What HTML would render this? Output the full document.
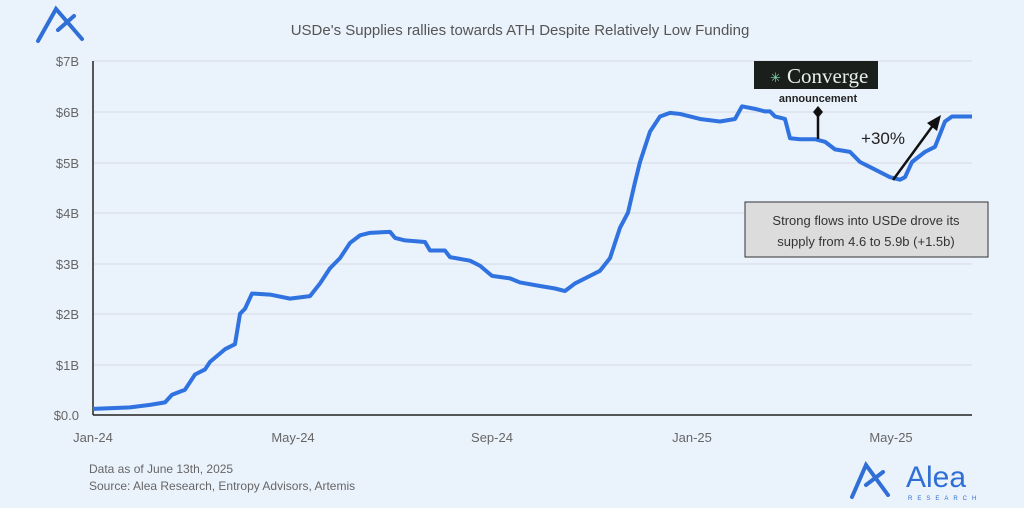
<!DOCTYPE html>
<html><head><meta charset="utf-8"><style>
html,body{margin:0;padding:0;background:#eaf2fc;}
svg{display:block;font-family:"Liberation Sans",sans-serif;}
</style></head><body>
<svg width="1024" height="508" viewBox="0 0 1024 508">
<rect width="1024" height="508" fill="#eaf2fc"/>
<path d="M38 41 L56 9 L82 39 M58 30 L74 16" stroke="#2f6fd6" stroke-width="4" fill="none" stroke-linecap="round"/>
<text x="520" y="35" font-size="15" fill="#555" text-anchor="middle">USDe's Supplies rallies towards ATH Despite Relatively Low Funding</text>
<g stroke="#d4dbe4" stroke-width="1">
<line x1="93" y1="61" x2="972" y2="61"/><line x1="93" y1="112" x2="972" y2="112"/>
<line x1="93" y1="163" x2="972" y2="163"/><line x1="93" y1="213" x2="972" y2="213"/>
<line x1="93" y1="264" x2="972" y2="264"/><line x1="93" y1="314" x2="972" y2="314"/>
<line x1="93" y1="365" x2="972" y2="365"/>
</g>
<line x1="93" y1="61" x2="93" y2="415" stroke="#222" stroke-width="1.5"/>
<line x1="93" y1="415" x2="972" y2="415" stroke="#222" stroke-width="1.5"/>
<g font-size="13" fill="#666" text-anchor="end">
<text x="79" y="66">$7B</text><text x="79" y="117">$6B</text><text x="79" y="168">$5B</text>
<text x="79" y="218">$4B</text><text x="79" y="269">$3B</text><text x="79" y="319">$2B</text>
<text x="79" y="370">$1B</text><text x="79" y="420">$0.0</text>
</g>
<g font-size="13" fill="#666" text-anchor="middle">
<text x="93" y="442">Jan-24</text><text x="293" y="442">May-24</text><text x="492" y="442">Sep-24</text>
<text x="692" y="442">Jan-25</text><text x="891" y="442">May-25</text>
</g>
<g transform="translate(0,415) scale(1,-50.6)">
<polyline fill="none" stroke="#2f72e0" stroke-width="4" stroke-linejoin="round" vector-effect="non-scaling-stroke" points="93,0.12 130,0.15 150,0.2 165,0.25 172,0.4 185,0.5 195,0.8 205,0.9 210,1.05 225,1.3 235,1.4 240,2.0 245,2.1 252,2.4 270,2.38 290,2.3 310,2.35 320,2.6 330,2.9 340,3.1 350,3.4 360,3.55 370,3.6 390,3.62 395,3.5 405,3.45 425,3.42 430,3.25 445,3.25 450,3.12 470,3.05 480,2.95 492,2.75 510,2.7 520,2.62 540,2.55 555,2.5 565,2.45 575,2.6 590,2.75 600,2.85 610,3.1 620,3.7 628,4.0 635,4.6 640,5.0 650,5.6 660,5.9 670,5.97 680,5.95 700,5.85 720,5.8 735,5.85 742,6.1 755,6.05 765,6.0 770,6.0 775,5.9 785,5.85 790,5.47 800,5.45 815,5.45 825,5.4 835,5.25 850,5.2 860,5.0 875,4.85 890,4.7 900,4.65 905,4.7 912,5.0 925,5.2 935,5.3 945,5.8 952,5.9 972,5.9"/>
</g>
<rect x="754" y="61" width="124" height="28" fill="#1b1f1c"/>
<text x="770" y="82" font-size="13" fill="#7fd6a6">✳</text>
<text x="787" y="83" font-size="21" fill="#e8eee9" font-family="Liberation Serif,serif">Converge</text>
<text x="818" y="102" font-size="11" font-weight="bold" fill="#222" text-anchor="middle">announcement</text>
<line x1="818" y1="112" x2="818" y2="139" stroke="#111" stroke-width="2.5"/>
<path d="M818 106 L823 112 L818 118 L813 112Z" fill="#111"/>
<text x="883" y="144" font-size="17" fill="#222" text-anchor="middle">+30%</text>
<line x1="893" y1="180" x2="934" y2="124" stroke="#111" stroke-width="2.5"/>
<path d="M941 115 L937 131 L927 123Z" fill="#111"/>
<rect x="745" y="202" width="243" height="55" fill="#dcdcdc" stroke="#333" stroke-width="1"/>
<text x="866" y="225" font-size="13" fill="#333" text-anchor="middle">Strong flows into USDe drove its</text>
<text x="866" y="246" font-size="13" fill="#333" text-anchor="middle">supply from 4.6 to 5.9b (+1.5b)</text>
<text x="89" y="473" font-size="12" fill="#666">Data as of June 13th, 2025</text>
<text x="89" y="490" font-size="12" fill="#666">Source: Alea Research, Entropy Advisors, Artemis</text>
<path d="M852 497 L866 465 L888 495 M866 485 L883 472" stroke="#2f6fd6" stroke-width="4" fill="none" stroke-linecap="round"/>
<text x="906" y="487" font-size="30" fill="#2f6fd6">Alea</text>
<text x="908" y="500" font-size="6" fill="#2f6fd6" letter-spacing="5">RESEARCH</text>
</svg>
</body></html>
